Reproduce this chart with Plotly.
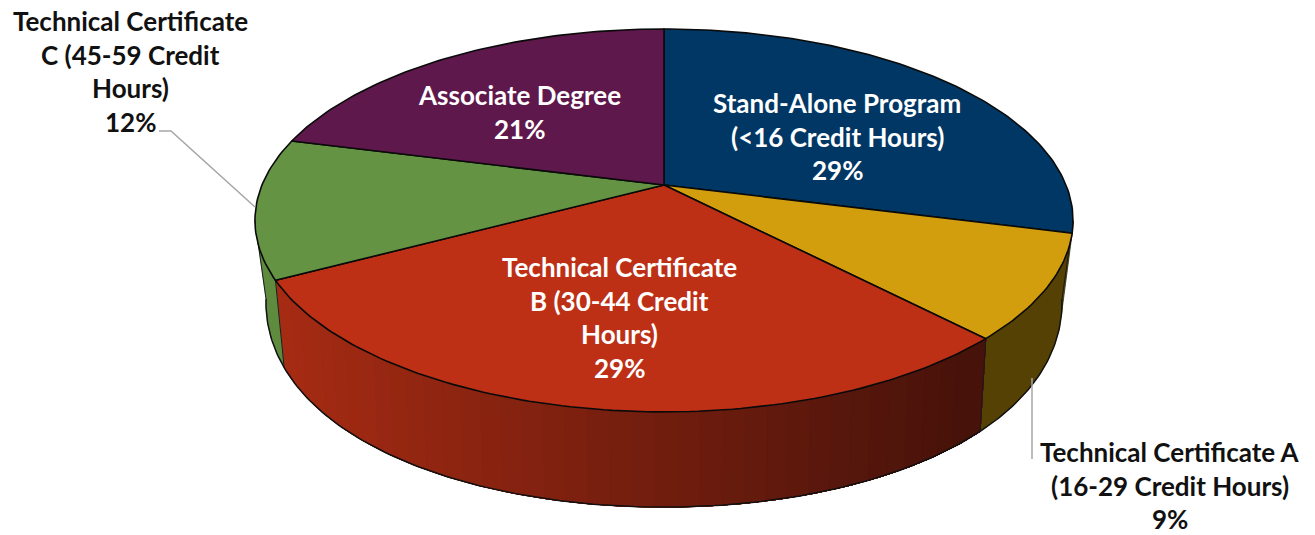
import numpy as np
import plotly.graph_objects as go

# --- data -------------------------------------------------------------
categories = ["Stand-Alone Program (<16 Credit Hours)",
              "Technical Certificate A (16-29 Credit Hours)",
              "Technical Certificate B (30-44 Credit Hours)",
              "Technical Certificate C (45-59 Credit Hours)",
              "Associate Degree"]
# shares read from the drawn slice boundaries (they round to the printed labels)
values = [29.0, 8.8, 29.4, 11.8, 21.0]
top_colors = ["#003764", "#D39E0D", "#BD3016", "#659344", "#5F184B"]
wall_left = ["#003764", "#564105", "#A62B13", "#5F8B3F", "#5F184B"]
wall_right = ["#003764", "#564105", "#46120A", "#5F8B3F", "#5F184B"]

label_lines = [["Stand-Alone Program", "(<16 Credit Hours)", "29%"],
               ["Technical Certificate A", "(16-29 Credit Hours)", "9%"],
               ["Technical Certificate", "B (30-44 Credit", "Hours)", "29%"],
               ["Technical Certificate", "C (45-59 Credit", "Hours)", "12%"],
               ["Associate Degree", "21%"]]
label_centers = [(837, 103), (1170, 452), (619, 267), (130, 21), (519, 95)]
label_colors = ["#FFFFFF", "#111111", "#FFFFFF", "#111111", "#FFFFFF"]
LINE_STEP = 33.7
FONT = "Lato"
FONT_SIZE = 26

# --- projection of the tilted disc -------------------------------------
CX = 664
TOP = dict(cy=185, a=402, b=184.9, kx=0.185, ky=0.185)
BOT = dict(cy=256, a=390, b=226, kx=0.2, ky=0.1)


def project(theta_deg, p):
    t = np.radians(theta_deg)
    u, v = np.sin(t), np.cos(t)
    return CX + p["a"] * u / (1 + p["kx"] * v), p["cy"] - p["b"] * v / (1 + p["ky"] * v)


def mix(c1, c2, t):
    a = [int(c1[i:i + 2], 16) for i in (1, 3, 5)]
    b = [int(c2[i:i + 2], 16) for i in (1, 3, 5)]
    return "#%02X%02X%02X" % tuple(round(x + (y - x) * t) for x, y in zip(a, b))


edges = np.cumsum([0] + values) / sum(values) * 360
SILHOUETTE_R = 100.7
SILHOUETTE_L = 259.3

fig = go.Figure()


def poly(xs, ys, fill=None, line=None, width=1.0):
    fig.add_trace(go.Scatter(
        x=xs, y=ys, mode="lines", hoverinfo="skip", showlegend=False,
        fill="toself" if fill else None, fillcolor=fill,
        line=dict(color=line or fill, width=width)))


# side wall: each band is painted over the previous one, from its start angle
# to the far end of the slice, so neighbouring bands leave no seams
for i, val in enumerate(values):
    lo, hi = max(edges[i], SILHOUETTE_R), min(edges[i + 1], SILHOUETTE_L)
    if hi <= lo:
        continue
    bands = 40 if wall_left[i] != wall_right[i] else 1
    starts = np.linspace(hi, lo, bands + 1)[:-1]
    for a0 in starts:
        arc = np.linspace(a0, lo, max(3, int((a0 - lo) * 2)))
        x0, y0 = project(arc, TOP)
        x1, y1 = project(arc[::-1], BOT)
        xm = (x0[0] + x0[min(8, len(x0) - 1)] + x1[-1] + x1[-min(9, len(x1))]) / 4
        t = np.clip((xm - 283) / (977 - 283), 0, 1)
        c = mix(wall_left[i], wall_right[i], t)
        poly(list(x0) + list(x1) + [x0[0]], list(y0) + list(y1) + [y0[0]], fill=c, width=0.5)

# side wall outlines
rim = np.linspace(SILHOUETTE_R, SILHOUETTE_L, 200)
bx, by = project(rim, BOT)
poly(bx, by, line="#111111", width=1.5)
for ang in (SILHOUETTE_R, edges[2], edges[3], SILHOUETTE_L):
    x0, y0 = project(ang, TOP)
    x1, y1 = project(ang, BOT)
    poly([x0, x1], [y0, y1], line="#1A1A1A", width=1.0)

# top face
for i, val in enumerate(values):
    arc = np.linspace(edges[i], edges[i + 1], int(val * 3.6) + 2)
    ax, ay = project(arc, TOP)
    poly([CX] + list(ax) + [CX], [TOP["cy"]] + list(ay) + [TOP["cy"]],
         fill=top_colors[i], line="#0A0A0A", width=1.6)

# labels
for lines, (cx, cy), col in zip(label_lines, label_centers, label_colors):
    for n, text in enumerate(lines):
        fig.add_annotation(x=cx, y=cy + n * LINE_STEP, text="<b>%s</b>" % text,
                           showarrow=False, xanchor="center", yanchor="middle",
                           font=dict(family=FONT, size=FONT_SIZE, color=col))

# leader lines
fig.add_shape(type="path", path="M159,131 L171,131 L255,207",
              line=dict(color="#A6A6A6", width=1.5))
fig.add_shape(type="line", x0=1032, y0=378, x1=1032, y1=459,
              line=dict(color="#A6A6A6", width=1.5))

fig.update_layout(
    width=1315, height=535, margin=dict(l=0, r=0, t=0, b=0),
    paper_bgcolor="white", plot_bgcolor="white", showlegend=False,
    xaxis=dict(range=[0, 1315], visible=False, fixedrange=True),
    yaxis=dict(range=[535, 0], visible=False, fixedrange=True))

fig.write_html("out.html", config={"displayModeBar": False},
               post_script="document.body.style.margin='0';document.documentElement.style.overflow='hidden';")
